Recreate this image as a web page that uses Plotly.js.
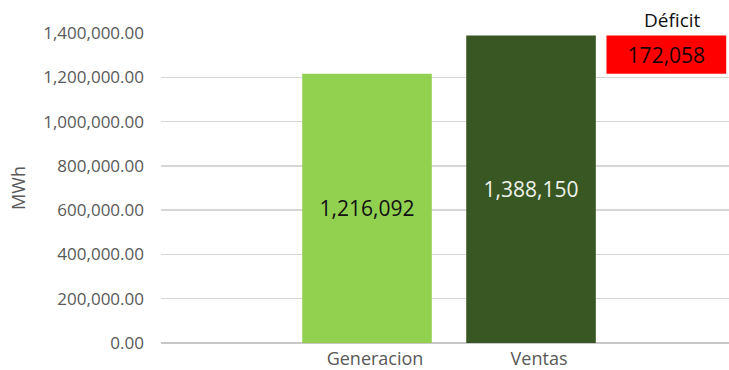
<!DOCTYPE html>
<html>
<head>
<meta charset="utf-8">
<script src="https://cdn.plot.ly/plotly-3.0.1.min.js"></script>
<style>html,body{margin:0;padding:0;background:#fff;}#chart{width:729px;height:370px;}</style>
</head>
<body>
<div id="chart"></div>
<script>
// Data
const categories = ["Generacion", "Ventas"];
const values = [1216092, 1388150];
const deficitLabel = "Déficit";
const deficitBase = [1216092];
const deficitValue = [172058];
const yTickVals = [0, 200000, 400000, 600000, 800000, 1000000, 1200000, 1400000];
const yTickText = ["0.00", "200,000.00", "400,000.00", "600,000.00", "800,000.00", "1,000,000.00", "1,200,000.00", "1,400,000.00"];

const FONT = "Open Sans, Noto Sans, sans-serif";
const idx = categories.map((c, i) => i);
const defX = categories.length; // third slot

const traces = [
  {
    type: "bar",
    x: [idx[0]], y: [values[0]],
    width: 0.79,
    marker: {color: "#92d050"},
    texttemplate: "%{y:,}", textposition: "inside", insidetextanchor: "middle",
    textfont: {family: FONT, size: 21, color: "#111111"},
    hoverinfo: "skip", showlegend: false
  },
  {
    type: "bar",
    x: [idx[1]], y: [values[1]],
    width: 0.79,
    marker: {color: "#385723"},
    texttemplate: "%{y:,}", textposition: "inside", insidetextanchor: "middle",
    textfont: {family: FONT, size: 21, color: "#eef2ea"},
    hoverinfo: "skip", showlegend: false
  },
  {
    type: "bar",
    x: [defX], y: deficitValue, base: deficitBase,
    width: 0.73, offset: -0.54,
    marker: {color: "#ff0000"},
    texttemplate: "%{y:,}", textposition: "inside", insidetextanchor: "middle",
    textfont: {family: FONT, size: 21, color: "#1a0000"},
    hoverinfo: "skip", showlegend: false, cliponaxis: false
  }
];

const layout = {
  width: 729, height: 370,
  margin: {l: 161, r: 0, t: 33, b: 27},
  paper_bgcolor: "#ffffff", plot_bgcolor: "#ffffff",
  barmode: "overlay",
  showlegend: false,
  xaxis: {
    range: [-1.256, 2.207],
    tickvals: idx, ticktext: categories,
    tickfont: {family: FONT, size: 18, color: "#595959"},
    ticklabelshift: 8, ticklabelstandoff: 3,
    showgrid: false, zeroline: false, showline: false, ticks: "",
    fixedrange: true
  },
  yaxis: {
    range: [0, 1400000],
    tickvals: yTickVals, ticktext: yTickText,
    tickfont: {family: FONT, size: 17, color: "#595959"},
    showgrid: true, gridcolor: "#d6d6d6", gridwidth: 1.5,
    zeroline: true, zerolinecolor: "#c8c8c8", zerolinewidth: 1.5,
    showline: false, ticks: "", ticklabelstandoff: 16,
    title: {text: "MWh", font: {family: FONT, size: 18, color: "#595959"}, standoff: 12},
    fixedrange: true
  },
  annotations: [
    {
      x: defX - 0.54 + 0.73 / 2, y: deficitBase[0] + deficitValue[0],
      xref: "x", yref: "y", yanchor: "bottom", yshift: 1, xshift: 6,
      text: deficitLabel, showarrow: false,
      font: {family: FONT, size: 19, color: "#111111"}
    }
  ]
};

Plotly.newPlot("chart", traces, layout, {displayModeBar: false, staticPlot: true});
</script>
</body>
</html>
